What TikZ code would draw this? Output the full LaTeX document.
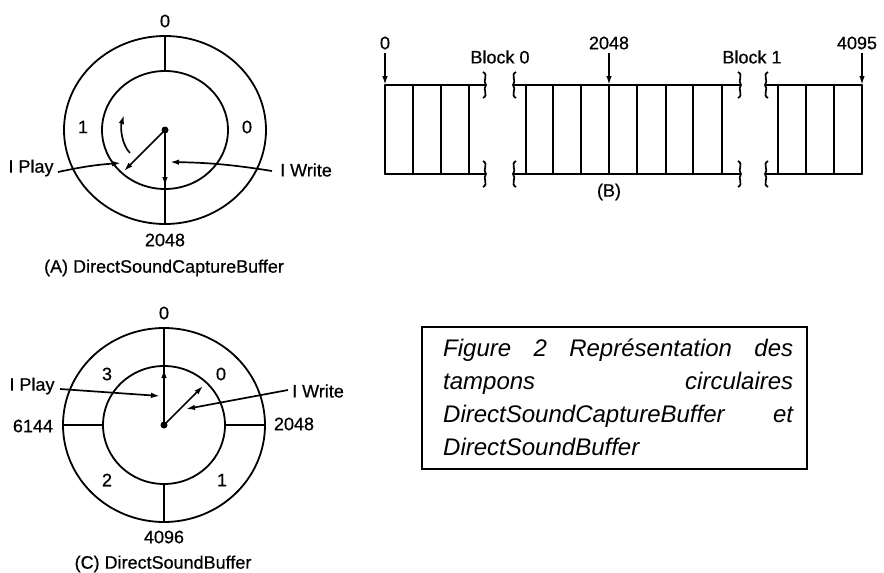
\documentclass[tikz,border=0pt]{standalone}
\usepackage{fontspec}
\setmainfont{Liberation Sans}
\newfontfamily\scanfont{Liberation Sans}[FakeBold=0.6]
\usetikzlibrary{arrows.meta}
\begin{document}
\begin{tikzpicture}[x=1pt,y=-1pt]
\tikzset{
  ln/.style={line width=1.8pt, line cap=round},
  arr/.style={line width=1.7pt, -{Latex[length=9pt,width=5.5pt]}},
  lbl/.style={font=\scanfont\fontsize{18}{20}\selectfont, inner sep=0pt},
  captxt/.style={font=\fontsize{24}{28}\selectfont\itshape, inner sep=0pt, anchor=base west},
  brk/.pic={\draw[line width=1.7pt] (-2,-13) .. controls (4,-10) and (-3,-4) .. (1,0) .. controls (-3,4) and (4,10) .. (-2,13);}
}
\useasboundingbox (0,0) rectangle (884,573);

% ---------------- Circle A ----------------
\coordinate (A) at (165,130);
\draw[ln] (A) ellipse [x radius=101pt, y radius=94pt];
\draw[ln] (A) ellipse [x radius=63pt, y radius=59pt];
\coordinate (Atop1) at (165,36);
\coordinate (Atop2) at (165,71);
\coordinate (Abot) at (165,224);
\coordinate (Adn) at (165,186);
\coordinate (Aplayend) at (124,171);
\coordinate (Acs) at (130,153);
\coordinate (Ace) at (124,115);
\coordinate (Apl0) at (58,172);
\coordinate (Apl1) at (121,163);
\coordinate (Awr0) at (272,171);
\coordinate (Awr1) at (170,162);
\draw[ln] (Atop1) -- (Atop2);
\draw[ln] (A) -- (Abot);
\draw[arr] (A) -- (Adn);
\draw[arr] (A) -- (Aplayend);
\draw[arr] (Acs) .. controls (122,145) and (120,128) .. (Ace);
\draw[arr] (Apl0) to[bend left=4] (Apl1);
\draw[arr] (Awr0) to[bend right=4] (Awr1);
\fill (A) circle (3.5pt);
\node[lbl] (a0) at (165,21) {0};
\node[lbl] (a1) at (83,127) {1};
\node[lbl] (a0r) at (247,127) {0};
\node[lbl] (aplay) at (31,168) {I Play};
\node[lbl] (awrite) at (306,170) {I Write};
\node[lbl] (a2048) at (165,240) {2048};
\node[lbl] (acap) at (164,268) {(A) DirectSoundCaptureBuffer};

% ---------------- Circle C ----------------
\coordinate (C) at (164,425);
\draw[ln] (C) ellipse [x radius=101pt, y radius=97pt];
\draw[ln] (C) ellipse [x radius=61pt, y radius=59pt];
\coordinate (Ctop) at (164,328);
\coordinate (Cup0) at (164,392);
\coordinate (Cup1) at (164,369);
\coordinate (Cl0) at (63,425);
\coordinate (Cl1) at (103,425);
\coordinate (Cr0) at (225,425);
\coordinate (Cr1) at (265,425);
\coordinate (Cb0) at (164,484);
\coordinate (Cb1) at (164,522);
\coordinate (Cwend) at (203,386);
\coordinate (Cpl0) at (60,389);
\coordinate (Cpl1) at (160,396);
\coordinate (Cwr0) at (288,390);
\coordinate (Cwr1) at (186,409);
\draw[ln] (Ctop) -- (C);
\draw[arr] (Cup0) -- (Cup1);
\draw[ln] (Cl0) -- (Cl1);
\draw[ln] (Cr0) -- (Cr1);
\draw[ln] (Cb0) -- (Cb1);
\draw[arr] (C) -- (Cwend);
\draw[arr] (Cpl0) -- (Cpl1);
\draw[arr] (Cwr0) -- (Cwr1);
\fill (C) circle (3.5pt);
\node[lbl] (c0) at (164,313) {0};
\node[lbl] (c3) at (107,374) {3};
\node[lbl] (c0r) at (221,374) {0};
\node[lbl] (cplay) at (32,386) {I Play};
\node[lbl] (cwrite) at (318,391) {I Write};
\node[lbl] (c6144) at (33,426) {6144};
\node[lbl] (c2048) at (294,424) {2048};
\node[lbl] (c2) at (107,480) {2};
\node[lbl] (c1) at (222,480) {1};
\node[lbl] (c4096) at (164,537) {4096};
\node[lbl] (ccap) at (163,564) {(C) DirectSoundBuffer};

% ---------------- Blocks B ----------------
\draw[ln] (385,85) -- (485,85);
\draw[ln] (385,174) -- (485,174);
\foreach \x in {385,413,441,469} \draw[ln] (\x,85) -- (\x,174);
\draw[ln] (514,85) -- (740,85);
\draw[ln] (514,174) -- (740,174);
\foreach \x in {526,553,581,609,637,666,693,722} \draw[ln] (\x,85) -- (\x,174);
\draw[ln] (766,85) -- (862,85);
\draw[ln] (766,174) -- (862,174);
\foreach \x in {778,806,834,862} \draw[ln] (\x,85) -- (\x,174);
\foreach \x in {485,740} {
  \pic at (\x,85) {brk};
  \pic at (\x,174) {brk};
}
\foreach \x in {514,766} {
  \pic[xscale=-1] at (\x,85) {brk};
  \pic[xscale=-1] at (\x,174) {brk};
}
\node[lbl] (b0) at (385,43) {0};
\node[lbl] (b2048) at (609,43) {2048};
\node[lbl] (b4095) at (857,43) {4095};
\node[lbl] (bk0) at (500,57) {Block 0};
\node[lbl] (bk1) at (752,57) {Block 1};
\node[lbl] (bB) at (609,192) {(B)};
\coordinate (p0a) at (385,53);  \coordinate (p0b) at (385,85);
\coordinate (p1a) at (609,53);  \coordinate (p1b) at (609,85);
\coordinate (p2a) at (862,53);  \coordinate (p2b) at (862,85);
\draw[arr] (p0a) -- (p0b);
\draw[arr] (p1a) -- (p1b);
\draw[arr] (p2a) -- (p2b);

% ---------------- Caption box ----------------
\node[draw, line width=1.4pt, minimum width=385pt, minimum height=142pt, inner sep=0pt] (box) at (614.5,398) {};
\node[captxt] (l1) at (443,356) {\makebox[350pt][s]{Figure 2 Représentation des}};
\node[captxt] (l2) at (443,389) {\makebox[350pt][s]{tampons circulaires}};
\node[captxt] (l3) at (443,422) {\makebox[350pt][s]{DirectSoundCaptureBuffer et}};
\node[captxt] (l4) at (443,455) {DirectSoundBuffer};
\end{tikzpicture}
\end{document}
